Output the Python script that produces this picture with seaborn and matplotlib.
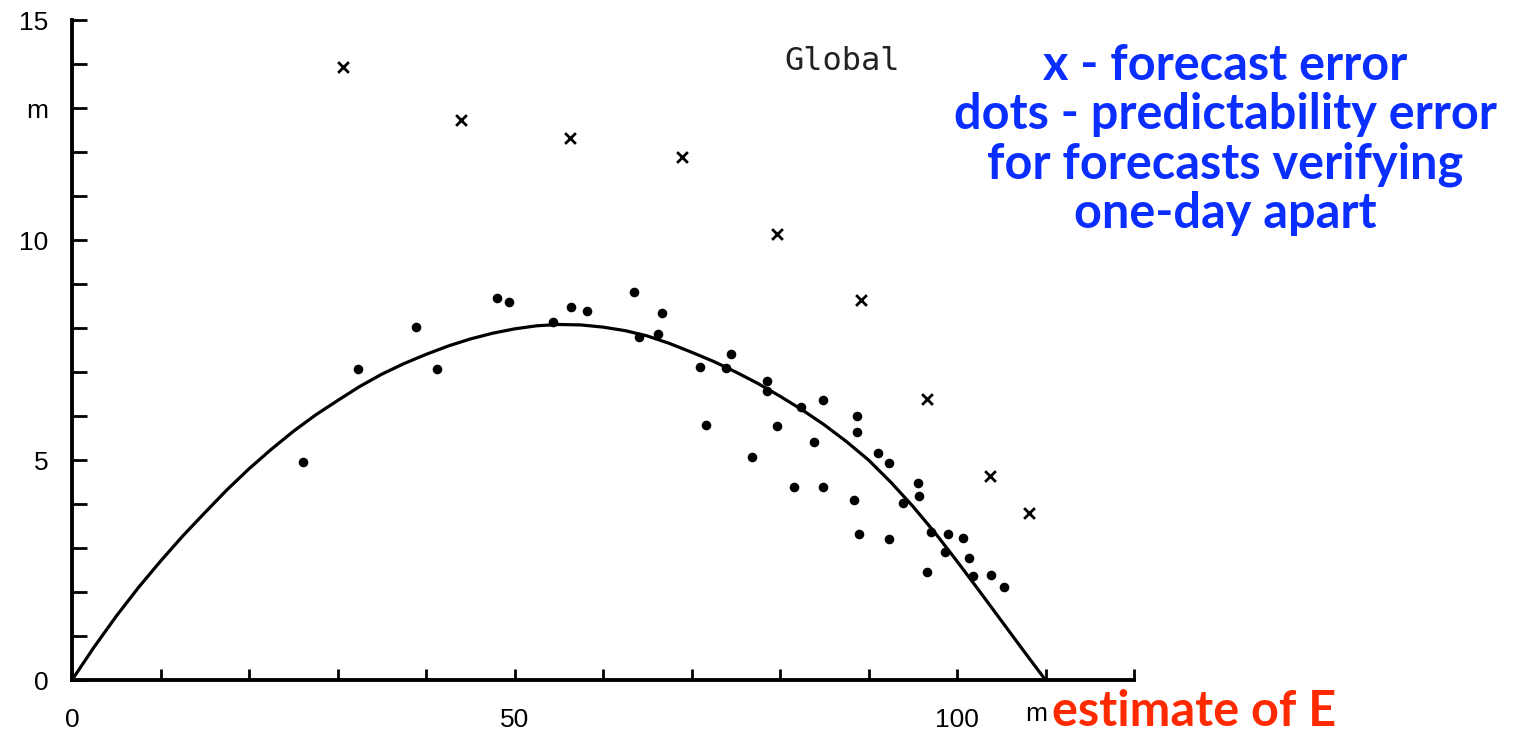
import matplotlib
matplotlib.use("Agg")
import matplotlib.pyplot as plt
import seaborn as sns
import pandas as pd

# forecast error (crosses)
fc_x = [30.6, 44.0, 56.3, 68.9, 79.7, 89.2, 96.6, 103.7, 108.1]
fc_y = [13.93, 12.73, 12.32, 11.89, 10.14, 8.64, 6.39, 4.64, 3.80]

# predictability error (dots)
pe_x = [26.1, 32.3, 38.9, 41.2, 48.0, 49.4, 54.4, 56.4, 58.2, 63.5, 66.7, 64.1, 66.2,
        71.0, 74.5, 73.9, 78.5, 78.5, 71.6, 79.7, 76.8, 82.4, 84.9, 88.7, 88.7, 83.8,
        81.6, 84.9, 91.1, 92.3, 88.4, 95.6, 95.7, 93.9, 88.9, 92.3, 97.1, 99.0, 100.7,
        98.6, 101.4, 96.6, 101.8, 103.8, 105.3]
pe_y = [4.95, 7.07, 8.02, 7.07, 8.68, 8.59, 8.14, 8.48, 8.39, 8.82, 8.34, 7.80, 7.86,
        7.11, 7.41, 7.09, 6.80, 6.57, 5.80, 5.77, 5.07, 6.20, 6.36, 6.00, 5.64, 5.41,
        4.39, 4.39, 5.16, 4.93, 4.09, 4.48, 4.18, 4.02, 3.32, 3.20, 3.36, 3.32, 3.23,
        2.91, 2.77, 2.45, 2.36, 2.39, 2.11]

# fitted curve
curve_x = [0, 2.5, 5, 7.5, 10, 12.5, 15, 17.5, 20, 22.5, 25, 27.5, 30, 32.5, 35, 37.5,
           40, 42.5, 45, 47.5, 50, 52.5, 55, 57.5, 60, 62.5, 65, 67.5, 70, 72.5, 75,
           77.5, 80, 82.5, 85, 87.5, 90, 92.5, 95, 97.5, 100, 102.5, 105, 107.5, 110]
curve_y = [0, 0.75, 1.45, 2.1, 2.7, 3.27, 3.8, 4.32, 4.8, 5.24, 5.65, 6.02, 6.35, 6.67,
           6.95, 7.19, 7.4, 7.59, 7.75, 7.88, 7.98, 8.05, 8.08, 8.07, 8.02, 7.94, 7.82,
           7.65, 7.45, 7.24, 7.0, 6.74, 6.45, 6.14, 5.8, 5.42, 5.0, 4.5, 3.95, 3.35,
           2.7, 2.03, 1.35, 0.67, 0]

xtick_vals = list(range(0, 121, 10))
xtick_labels = ["0", "", "", "", "", "50", "", "", "", "", "100", "", ""]
ytick_vals = list(range(0, 16))
ytick_labels = ["0", "", "", "", "", "5", "", "", "", "", "10", "", "", "m", "", "15"]

legend_lines = ["x - forecast error", "dots - predictability error",
                "for forecasts verifying", "one-day apart"]

sns.set_style("white")
plt.rcParams["font.family"] = ["Liberation Sans", "DejaVu Sans"]

fig = plt.figure(figsize=(15.19, 7.32), dpi=100)
ax = fig.add_axes([72 / 1519, 1 - 680 / 732, (1134 - 72) / 1519, (680 - 20) / 732])

df_curve = pd.DataFrame({"x": curve_x, "y": curve_y})
df_pe = pd.DataFrame({"x": pe_x, "y": pe_y})
df_fc = pd.DataFrame({"x": fc_x, "y": fc_y})

sns.lineplot(data=df_curve, x="x", y="y", ax=ax, color="black", linewidth=2.3,
             sort=False, estimator=None)
sns.scatterplot(data=df_pe, x="x", y="y", ax=ax, color="black", s=48,
                edgecolor="black", linewidth=0, zorder=3)
sns.scatterplot(data=df_fc, x="x", y="y", ax=ax, color="black", marker="x", s=60,
                linewidth=2.0, zorder=3)

ax.set_xlim(0, 120)
ax.set_ylim(0, 15)
ax.set_xlabel("")
ax.set_ylabel("")
for s in ["top", "right"]:
    ax.spines[s].set_visible(False)
for s in ["left", "bottom"]:
    ax.spines[s].set_linewidth(2.8)
    ax.spines[s].set_color("black")

ax.set_xticks(xtick_vals)
ax.set_xticklabels(xtick_labels)
ax.set_yticks(ytick_vals)
ax.set_yticklabels(ytick_labels)
ax.tick_params(axis="x", bottom=True, direction="in", length=8, width=2, pad=20,
               labelsize=19, colors="black")
ax.tick_params(axis="y", left=True, direction="in", length=11, width=2, pad=17,
               labelsize=19, colors="black")

ax.text(87, 14.05, "Global", fontsize=23, family="DejaVu Sans Mono", color="#222222",
        ha="center", va="center")

ax.text(108.9, -0.78, "m", fontsize=19, color="black", ha="center", va="center",
        clip_on=False)
fig.text(1194 / 1519, 1 - 712 / 732, "estimate of E", fontsize=35, family="Lato",
         fontweight="bold", color="#FF2A00", ha="center", va="center")

for i, line in enumerate(legend_lines):
    fig.text(1225 / 1519, 1 - (65 + 49.5 * i) / 732, line, fontsize=35, family="Lato",
             fontweight="bold", color="#0A2EFF", ha="center", va="center")

fig.savefig("out.png", dpi=100)
